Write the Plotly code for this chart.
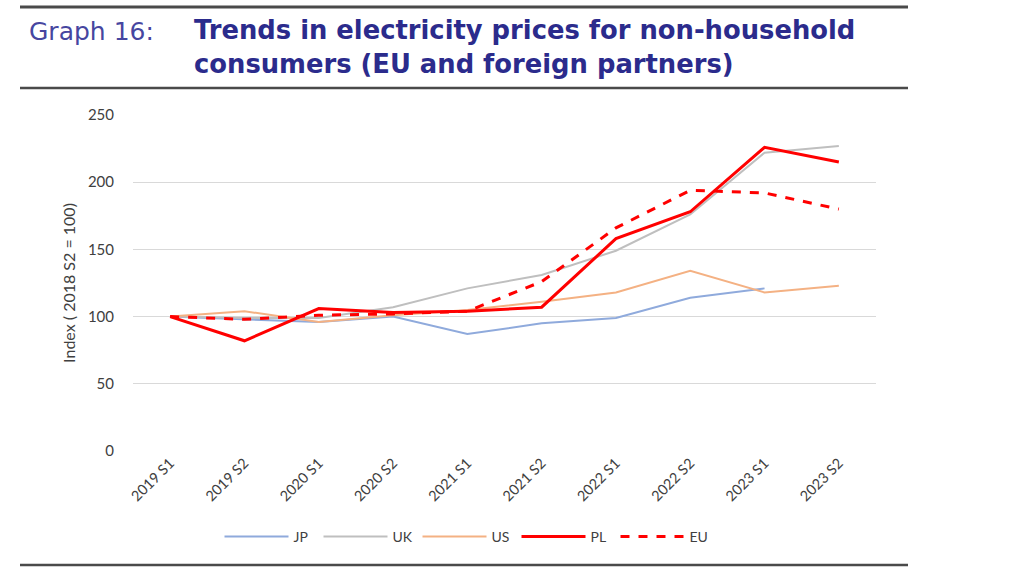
import plotly.graph_objects as go

periods = ["2019 S1", "2019 S2", "2020 S1", "2020 S2", "2021 S1",
           "2021 S2", "2022 S1", "2022 S2", "2023 S1", "2023 S2"]
jp = [100, 98, 96, 100, 87, 95, 99, 114, 121, None]
uk = [100, 99, 99, 107, 121, 131, 149, 176, 222, 227]
us = [100, 104, 96, 101, 105, 111, 118, 134, 118, 123]
pl = [100, 82, 106, 103, 104, 107, 158, 178, 226, 215]
eu = [100, 98, 101, 102, 104, 126, 166, 194, 192, 180]
y_ticks = [0, 50, 100, 150, 200, 250]

PL_L, PL_R, PL_T, PL_B = 133, 876, 115, 451  # plot area on screen
PW, PH = PL_R - PL_L, PL_B - PL_T


def px(x):
    return (x - PL_L) / PW


def py(y):
    return (PL_B - y) / PH


fig = go.Figure()
series = [
    ("JP", jp, "#8faadc", 2, "solid"),
    ("UK", uk, "#bfbfbf", 2, "solid"),
    ("US", us, "#f4b183", 2, "solid"),
    ("PL", pl, "#ff0000", 3, "solid"),
    ("EU", eu, "#ff0000", 3, "dash"),
]
for name, vals, color, w, dash in series:
    fig.add_trace(go.Scatter(x=periods, y=vals, name=name, mode="lines",
                             line=dict(color=color, width=w, dash=dash),
                             connectgaps=False))

fig.update_layout(
    width=1024, height=576,
    paper_bgcolor="white", plot_bgcolor="white",
    margin=dict(l=PL_L, r=1024 - PL_R, t=PL_T, b=576 - PL_B),
    font=dict(family="Lato, sans-serif", size=14, color="#404040"),
    showlegend=True,
    legend=dict(orientation="h", x=px(467), xanchor="center",
                y=py(537), yanchor="middle", itemwidth=64,
                entrywidth=20, entrywidthmode="pixels",
                font=dict(size=14, color="#404040"), traceorder="normal"),
    xaxis=dict(type="category", range=[-0.5, 9.5], tickangle=-45,
               showgrid=False, showline=False, ticks="", tickfont=dict(size=14.5)),
    yaxis=dict(range=[0, 250], tickvals=y_ticks, showgrid=True,
               gridcolor="#d9d9d9", gridwidth=1, zeroline=False, showline=False,
               ticks="", tickfont=dict(size=15), ticklabelstandoff=18,
               title=dict(text="Index ( 2018 S2 = 100)", font=dict(size=16), standoff=8)),
)

# header / footer rules
for yy, w in [(7, 3), (88, 2.5), (565, 2.5)]:
    fig.add_shape(type="line", xref="paper", yref="paper",
                  x0=px(20), x1=px(908), y0=py(yy), y1=py(yy),
                  line=dict(color="#4a4a4a", width=w))

fig.add_annotation(text="Graph 16:", xref="paper", yref="paper",
                   x=px(27), y=py(31), xanchor="left", yanchor="middle",
                   showarrow=False,
                   font=dict(family="DejaVu Sans, sans-serif", size=25, color="#4646a0"))
fig.add_annotation(text="<b>Trends in electricity prices for non-household<br>consumers (EU and foreign partners)</b>",
                   xref="paper", yref="paper", align="left",
                   x=px(192), y=py(47), xanchor="left", yanchor="middle",
                   showarrow=False,
                   font=dict(family="DejaVu Sans, sans-serif", size=25.8, color="#2b2b8c"))

fig.write_html("out.html", config={"displayModeBar": False},
               post_script="document.body.style.margin='0';")
